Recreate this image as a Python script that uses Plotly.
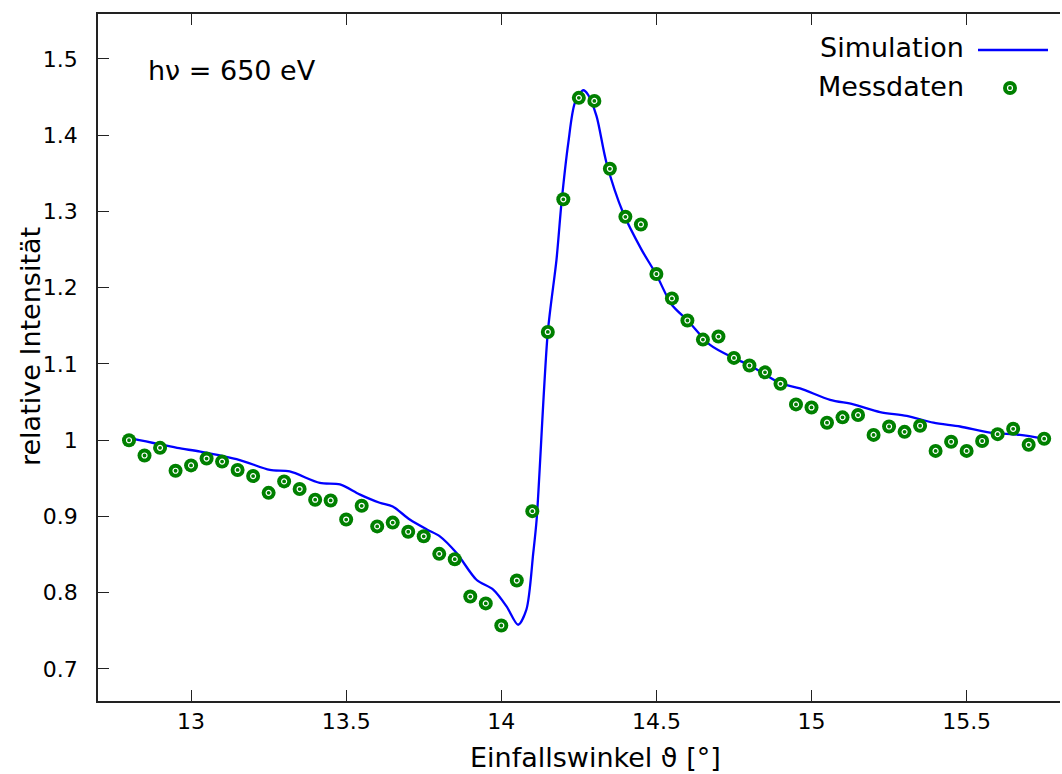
import plotly.graph_objects as go

# Measured data (Messdaten)
meas_x = [12.80, 12.85, 12.90, 12.95, 13.00, 13.05, 13.10, 13.15, 13.20, 13.25,
          13.30, 13.35, 13.40, 13.45, 13.50, 13.55, 13.60, 13.65, 13.70, 13.75,
          13.80, 13.85, 13.90, 13.95, 14.00, 14.05, 14.10, 14.15, 14.20, 14.25,
          14.30, 14.35, 14.40, 14.45, 14.50, 14.55, 14.60, 14.65, 14.70, 14.75,
          14.80, 14.85, 14.90, 14.95, 15.00, 15.05, 15.10, 15.15, 15.20, 15.25,
          15.30, 15.35, 15.40, 15.45, 15.50, 15.55, 15.60, 15.65, 15.70, 15.75]
meas_y = [1.000, 0.980, 0.990, 0.960, 0.967, 0.976, 0.972, 0.961, 0.953, 0.931,
          0.946, 0.936, 0.922, 0.921, 0.896, 0.914, 0.887, 0.892, 0.880, 0.874,
          0.851, 0.844, 0.795, 0.786, 0.757, 0.816, 0.907, 1.142, 1.316, 1.449,
          1.445, 1.356, 1.293, 1.283, 1.218, 1.186, 1.157, 1.132, 1.136, 1.108,
          1.098, 1.089, 1.074, 1.047, 1.043, 1.023, 1.030, 1.033, 1.007, 1.018,
          1.011, 1.019, 0.986, 0.998, 0.986, 0.999, 1.008, 1.015, 0.994, 1.002]

# Simulation curve
sim_x = [12.80, 12.955, 13.03, 13.157, 13.254, 13.318, 13.415, 13.48, 13.543, 13.608,
         13.65, 13.705, 13.76, 13.802, 13.856, 13.92, 13.974, 14.017, 14.054, 14.081,
         14.103, 14.114, 14.15, 14.178, 14.194, 14.216, 14.237, 14.264, 14.28, 14.307,
         14.339, 14.393, 14.452, 14.50, 14.549, 14.603, 14.673, 14.748, 14.802, 14.898,
         14.963, 15.06, 15.135, 15.221, 15.307, 15.393, 15.479, 15.575, 15.672, 15.75]
sim_y = [1.003, 0.990, 0.985, 0.974, 0.961, 0.959, 0.944, 0.942, 0.929, 0.918,
         0.913, 0.896, 0.883, 0.874, 0.852, 0.817, 0.804, 0.782, 0.758, 0.778,
         0.852, 0.896, 1.142, 1.237, 1.311, 1.390, 1.442, 1.459, 1.453, 1.425,
         1.364, 1.298, 1.250, 1.217, 1.178, 1.156, 1.125, 1.108, 1.098, 1.075,
         1.068, 1.053, 1.047, 1.037, 1.032, 1.023, 1.018, 1.010, 1.007, 1.002]

x_ticks = [13, 13.5, 14, 14.5, 15, 15.5]
x_tick_labels = ["13", "13.5", "14", "14.5", "15", "15.5"]
y_ticks = [0.7, 0.8, 0.9, 1.0, 1.1, 1.2, 1.3, 1.4, 1.5]
y_tick_labels = ["0.7", "0.8", "0.9", "1", "1.1", "1.2", "1.3", "1.4", "1.5"]

FONT = "DejaVu Sans"
GREEN = "#008000"
BLUE = "#0000ff"

# plot area in pixels
L, R, T, B = 98, 1060, 14, 701
PW, PH = R - L, B - T


def px(xp):
    return (xp - L) / PW


def py(yp):
    return (B - yp) / PH


fig = go.Figure()
fig.add_trace(go.Scatter(x=sim_x, y=sim_y, mode="lines", name="Simulation",
                         line=dict(color=BLUE, width=2.3, shape="spline", smoothing=0.8),
                         showlegend=False))
fig.add_trace(go.Scatter(x=meas_x, y=meas_y, mode="markers", name="Messdaten",
                         marker=dict(symbol="circle", size=14, color=GREEN, line=dict(width=0)),
                         showlegend=False))
fig.add_trace(go.Scatter(x=meas_x, y=meas_y, mode="markers", name="Messdaten",
                         marker=dict(symbol="circle-open", size=5, color="white",
                                     line=dict(width=1.2, color="white")),
                         showlegend=False, hoverinfo="skip"))

fig.update_layout(
    width=1062, height=774,
    margin=dict(l=L, r=1062 - R, t=T, b=774 - B),
    paper_bgcolor="white", plot_bgcolor="white",
    font=dict(family=FONT, color="black"),
    xaxis=dict(range=[12.7, 15.801], showgrid=False, zeroline=False,
               showline=True, linecolor="#222", linewidth=1.5, mirror="ticks",
               ticks="inside", ticklen=11, tickwidth=1.2, tickcolor="#222",
               tickvals=x_ticks, ticktext=x_tick_labels,
               tickfont=dict(size=22, family=FONT)),
    yaxis=dict(range=[0.658, 1.559], showgrid=False, zeroline=False,
               showline=True, linecolor="#222", linewidth=1.5,
               ticks="inside", ticklen=11, tickwidth=1.2, tickcolor="#222",
               tickvals=y_ticks, ticktext=y_tick_labels,
               tickfont=dict(size=22, family=FONT), ticklabelstandoff=14),
)

# Axis titles
fig.add_annotation(xref="paper", yref="paper", x=px(595), y=py(757),
                   text="Einfallswinkel ϑ [°]", showarrow=False,
                   xanchor="center", yanchor="middle", font=dict(size=27, family=FONT))
fig.add_annotation(xref="paper", yref="paper", x=px(30), y=py(347),
                   text="relative Intensität", showarrow=False, textangle=-90,
                   xanchor="center", yanchor="middle", font=dict(size=27, family=FONT))

# Manual legend (text on the left, key on the right, gnuplot style)
fig.add_annotation(xref="paper", yref="paper", x=px(966), y=py(47),
                   text="Simulation", showarrow=False, xanchor="right", yanchor="middle",
                   font=dict(size=27, family=FONT))
fig.add_annotation(xref="paper", yref="paper", x=px(966), y=py(86),
                   text="Messdaten", showarrow=False, xanchor="right", yanchor="middle",
                   font=dict(size=27, family=FONT))
fig.add_shape(type="line", xref="paper", yref="paper",
              x0=px(978), x1=px(1048), y0=py(50), y1=py(50),
              line=dict(color=BLUE, width=2.3))
lx, ly = px(1010), py(88)
fig.add_shape(type="circle", xref="paper", yref="paper", xsizemode="pixel", ysizemode="pixel",
              xanchor=lx, yanchor=ly, x0=-7, x1=7, y0=-7, y1=7,
              fillcolor=GREEN, line=dict(width=0))
fig.add_shape(type="circle", xref="paper", yref="paper", xsizemode="pixel", ysizemode="pixel",
              xanchor=lx, yanchor=ly, x0=-2.5, x1=2.5, y0=-2.5, y1=2.5,
              fillcolor="rgba(0,0,0,0)", line=dict(width=1.2, color="white"))

# Photon energy label
fig.add_annotation(xref="paper", yref="paper", x=px(146), y=py(71),
                   text="hν = 650 eV", showarrow=False, xanchor="left", yanchor="middle",
                   font=dict(size=27, family=FONT))

fig.write_html("out.html")
